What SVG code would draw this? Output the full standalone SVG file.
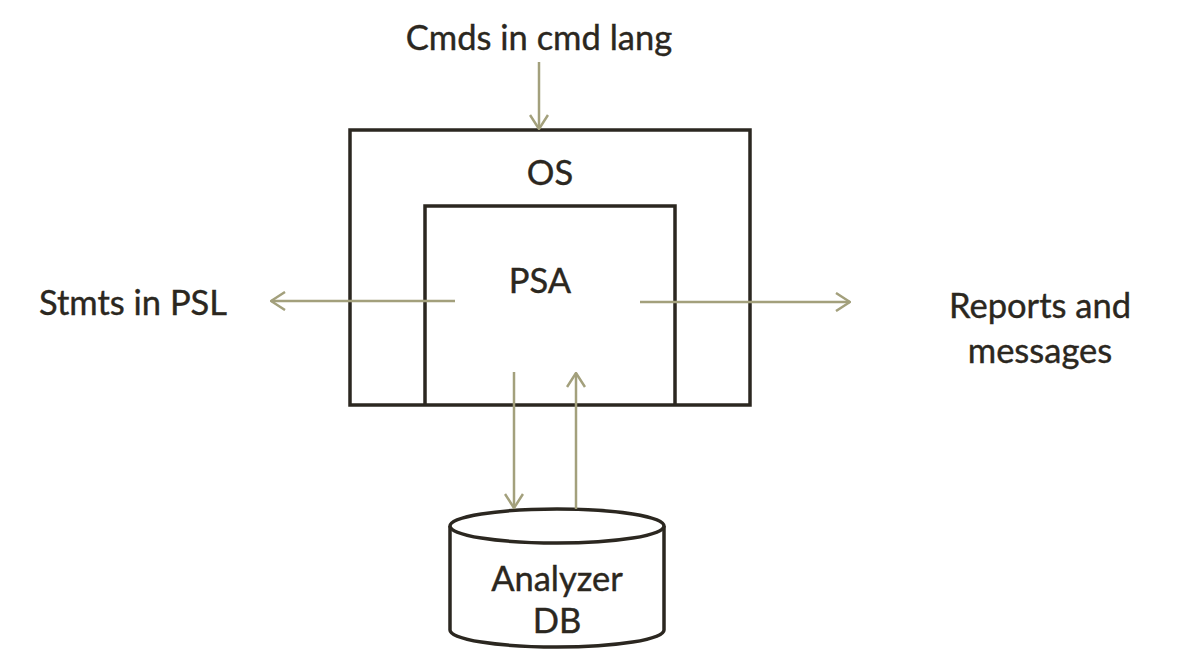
<svg xmlns="http://www.w3.org/2000/svg" width="1202" height="655" viewBox="0 0 1202 655">
<style>
.box{fill:none;stroke:#2b2720;stroke-width:3.5}
.t{font-family:Lato,"Open Sans",sans-serif;font-size:34.5px;fill:#2b2720;text-anchor:middle;stroke:#2b2720;stroke-width:0.4}
.c{stroke:#a3a07c;stroke-width:2.5;fill:none}
</style>
<defs>
<marker id="ah" viewBox="0 0 16 20" refX="15" refY="10" markerWidth="16" markerHeight="20" markerUnits="userSpaceOnUse" orient="auto">
<path d="M1,1 L15,10 L1,19" fill="none" stroke="#a3a07c" stroke-width="2.5"/>
</marker>
</defs>
<rect width="1202" height="655" fill="#fff"/>
<g id="os"><rect class="box" x="350" y="130" width="400" height="275"/><text class="t" x="550" y="185">OS</text></g>
<g id="psa"><path class="box" d="M425,405 V206 H675 V405"/><text class="t" x="540" y="293">PSA</text></g>
<g id="db">
<path d="M450,526 V630 A107,17 0 0 0 664,630 V526" fill="#fff" stroke="#2b2720" stroke-width="3.5"/>
<ellipse cx="557" cy="526" rx="107" ry="17" fill="#fff" stroke="#2b2720" stroke-width="3.5"/>
<text class="t" x="557" y="591">Analyzer</text><text class="t" x="557" y="633">DB</text>
</g>
<g id="cmds"><text class="t" x="539" y="50">Cmds in cmd lang</text></g>
<g id="stmts"><text class="t" x="133" y="315">Stmts in PSL</text></g>
<g id="reports"><text class="t" x="1040" y="318">Reports and</text><text class="t" x="1040" y="363">messages</text></g>
<g id="connectors">
<line class="c" x1="539" y1="62" x2="539" y2="129" marker-end="url(#ah)"/>
<line class="c" x1="455" y1="301" x2="271" y2="301" marker-end="url(#ah)"/>
<line class="c" x1="640" y1="302" x2="850" y2="302" marker-end="url(#ah)"/>
<line class="c" x1="514" y1="372" x2="514" y2="508" marker-end="url(#ah)"/>
<line class="c" x1="576" y1="509" x2="576" y2="373" marker-end="url(#ah)"/>
</g>
</svg>
